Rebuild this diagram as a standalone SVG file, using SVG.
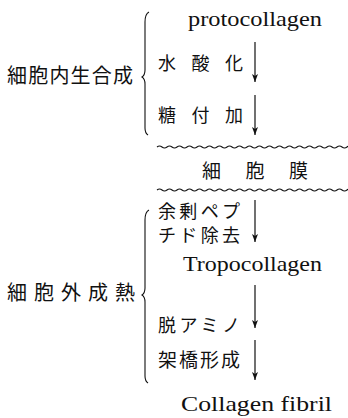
<svg xmlns="http://www.w3.org/2000/svg" width="348" height="418" viewBox="0 0 348 418">
<defs>
<marker id="ah" viewBox="0 0 8 6" refX="8" refY="3" markerWidth="8" markerHeight="6" markerUnits="userSpaceOnUse" orient="auto">
<path d="M0,0 L8,3 L0,6 L2,3 Z" fill="#111"/>
</marker>
<path id="wave" d="M157,0 q2.5,-2 5,0 t5,0 t5,0 t5,0 t5,0 t5,0 t5,0 t5,0 t5,0 t5,0 t5,0 t5,0 t5,0 t5,0 t5,0 t5,0 t5,0 t5,0 t5,0 t5,0 t5,0 t5,0 t5,0 t5,0 t5,0 t5,0 t5,0 t5,0 t5,0 t5,0 t5,0 t5,0 t5,0 t5,0 t5,0 t5,0 t5,0 t5,0 t5,0"/>
</defs>
<style>
.jp{font-family:"Noto Sans CJK JP","Noto Sans CJK SC",sans-serif;fill:#111;}
.en{font-family:"Liberation Serif","DejaVu Serif",serif;fill:#111;}
.ln{fill:none;stroke:#111;stroke-width:1.1;}
.ar{fill:none;stroke:#111;stroke-width:1.2;marker-end:url(#ah);}
</style>
<rect width="348" height="418" fill="#fff"/>

<g id="group-intracellular">
<path class="ln" d="M149,12 Q145,14 145,22 L145,70 Q145,75 142,77 Q145,79 145,84 L145,128 Q145,133 148,135"/>
<text class="jp" x="7" y="83" font-size="20" textLength="126" lengthAdjust="spacing">細胞内生合成</text>
</g>

<g id="node-protocollagen">
<text class="en" x="188" y="26" font-size="21" textLength="134" lengthAdjust="spacingAndGlyphs">protocollagen</text>
</g>

<g id="node-hydroxylation">
<text class="jp" x="158" y="70" font-size="18" textLength="85" lengthAdjust="spacing">水酸化</text>
</g>

<g id="node-glycosylation">
<text class="jp" x="158" y="122" font-size="18" textLength="85" lengthAdjust="spacing">糖付加</text>
</g>

<g id="node-membrane">
<use href="#wave" y="147" class="ln" stroke-width="0.9"/>
<text class="jp" x="202" y="178" font-size="19" textLength="106" lengthAdjust="spacing">細胞膜</text>
<use href="#wave" y="190" class="ln" stroke-width="0.9"/>
</g>

<g id="group-extracellular">
<path class="ln" d="M149,210 Q145,212 145,220 L145,288 Q145,293 142,295 Q145,297 145,302 L145,376 Q145,381 148,383"/>
<text class="jp" x="7" y="300" font-size="20" textLength="128" lengthAdjust="spacing">細胞外成熱</text>
</g>

<g id="node-peptide-removal">
<text class="jp" x="158" y="218" font-size="18" textLength="82" lengthAdjust="spacing">余剰ペプ</text>
<text class="jp" x="158" y="242" font-size="18" textLength="82" lengthAdjust="spacing">チド除去</text>
</g>

<g id="node-tropocollagen">
<text class="en" x="183" y="271" font-size="21" textLength="139" lengthAdjust="spacingAndGlyphs">Tropocollagen</text>
</g>

<g id="node-deamination">
<text class="jp" x="158" y="332" font-size="18" textLength="82" lengthAdjust="spacing">脱アミノ</text>
</g>

<g id="node-crosslink">
<text class="jp" x="158" y="367" font-size="19" textLength="82" lengthAdjust="spacing">架橋形成</text>
</g>

<g id="node-fibril">
<text class="en" x="181" y="411" font-size="21" textLength="151" lengthAdjust="spacingAndGlyphs">Collagen fibril</text>
</g>

<g id="connectors">
<line class="ar" x1="255" y1="42" x2="255" y2="82"/>
<line class="ar" x1="255" y1="95" x2="255" y2="135"/>
<line class="ar" x1="255" y1="200" x2="255" y2="242"/>
<line class="ar" x1="255" y1="285" x2="255" y2="328"/>
<line class="ar" x1="255" y1="340" x2="255" y2="380"/>
</g>
</svg>
